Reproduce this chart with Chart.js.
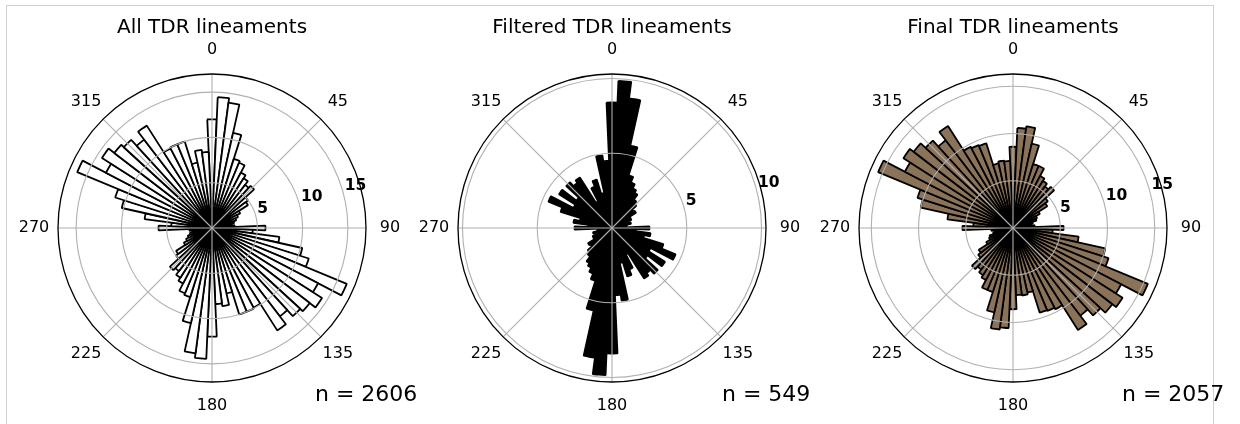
<!DOCTYPE html>
<html>
<head>
<meta charset="utf-8">
<script src="https://cdn.jsdelivr.net/npm/chart.js@4.4.1/dist/chart.umd.min.js"></script>
<style>
  html, body { margin: 0; padding: 0; background: #fff; }
  body { width: 1240px; height: 424px; position: relative; overflow: hidden; }
  #frame { position: absolute; left: 6px; top: 5px; width: 1206px; height: 440px; border: 1px solid #d0d0d0; }
  canvas { position: absolute; top: 0; }
</style>
</head>
<body>
<div id="frame"></div>
<canvas id="rose1" width="430" height="424" style="left:7px"></canvas>
<canvas id="rose2" width="430" height="424" style="left:407px"></canvas>
<canvas id="rose3" width="432" height="424" style="left:808px"></canvas>
<script>
// 5-degree azimuth bins (bar centres), clockwise from north
const BIN_CENTERS = [
  0, 5, 10, 15, 20, 25, 30, 35, 40, 45, 50, 55, 60, 65, 70, 75, 80, 85,
  90, 95, 100, 105, 110, 115, 120, 125, 130, 135, 140, 145, 150, 155, 160, 165, 170, 175,
  180, 185, 190, 195, 200, 205, 210, 215, 220, 225, 230, 235, 240, 245, 250, 255, 260, 265,
  270, 275, 280, 285, 290, 295, 300, 305, 310, 315, 320, 325, 330, 335, 340, 345, 350, 355
];

// Radial bar length per bin
const ALL_TDR = [
  12.0, 14.45, 13.95, 10.75, 8.0, 7.8, 6.9, 6.5, 6.0, 6.3, 5.0, 4.7, 3.5, 3.1, 2.8, 2.5, 2.2, 2.5,
  5.9, 4.5, 7.5, 10.2, 11.2, 16.1, 13.2, 14.4, 13.6, 13.2, 12.3, 13.4, 9.9, 10.0, 10.0, 7.4, 8.7, 8.4,
  12.0, 14.45, 13.95, 10.75, 8.0, 7.8, 6.9, 6.5, 6.0, 6.3, 5.0, 4.7, 3.5, 3.1, 2.8, 2.5, 2.2, 2.5,
  5.9, 4.5, 7.5, 10.2, 11.2, 16.1, 13.2, 14.4, 13.6, 13.2, 12.3, 13.4, 9.9, 10.0, 10.0, 7.4, 8.7, 8.4
];
const FILTERED_TDR = [
  8.4, 9.85, 8.75, 5.65, 3.7, 3.3, 3.0, 2.8, 2.4, 2.2, 1.8, 1.9, 1.4, 1.4, 1.0, 1.3, 1.0, 0.9,
  2.5, 1.6, 2.6, 2.2, 3.6, 4.6, 2.9, 4.2, 3.0, 4.15, 3.8, 4.0, 2.0, 3.0, 3.4, 2.4, 4.9, 4.5,
  8.4, 9.85, 8.75, 5.65, 3.7, 3.3, 3.0, 2.8, 2.4, 2.2, 1.8, 1.9, 1.4, 1.4, 1.0, 1.3, 1.0, 0.9,
  2.5, 1.6, 2.6, 2.2, 3.6, 4.6, 2.9, 4.2, 3.0, 4.15, 3.8, 4.0, 2.0, 3.0, 3.4, 2.4, 4.9, 4.5
];
const FINAL_TDR = [
  8.6, 10.6, 10.85, 9.15, 7.1, 7.1, 6.2, 5.9, 5.55, 5.9, 4.65, 4.3, 3.2, 2.75, 2.6, 2.15, 1.95, 2.3,
  5.35, 4.2, 7.0, 10.0, 10.6, 15.45, 12.9, 13.75, 13.25, 12.55, 11.7, 12.8, 9.7, 9.5, 9.4, 7.0, 7.2, 7.1,
  8.6, 10.6, 10.85, 9.15, 7.1, 7.1, 6.2, 5.9, 5.55, 5.9, 4.65, 4.3, 3.2, 2.75, 2.6, 2.15, 1.95, 2.3,
  5.35, 4.2, 7.0, 10.0, 10.6, 15.45, 12.9, 13.75, 13.25, 12.55, 11.7, 12.8, 9.7, 9.5, 9.4, 7.0, 7.2, 7.1
];

const TITLES = ['All TDR lineaments', 'Filtered TDR lineaments', 'Final TDR lineaments'];
const COUNTS = [2606, 549, 2057];
const AXIS_MAX = [17.0, 10.3, 16.3];
const RADIAL_TICKS = [5, 10, 15];
const ANGLE_TICKS = [0, 45, 90, 135, 180, 225, 270, 315];

const DEG = Math.PI / 180;
const FONT = "'DejaVu Sans', 'Liberation Sans', sans-serif";
const GRID_COLOR = '#b0b0b0';
const RADIUS = 154;

// compass spokes, direction labels, bold radial labels, title and count
const roseDecor = {
  id: 'roseDecor',
  afterDatasetsDraw(chart) {
    const s = chart.scales.r, ctx = chart.ctx;
    ctx.save();
    ctx.strokeStyle = GRID_COLOR;
    ctx.lineWidth = 1.1;
    ANGLE_TICKS.forEach(a => {
      ctx.beginPath();
      ctx.moveTo(s.xCenter, s.yCenter);
      ctx.lineTo(s.xCenter + s.drawingArea * Math.sin(a * DEG),
                 s.yCenter - s.drawingArea * Math.cos(a * DEG));
      ctx.stroke();
    });
    ctx.restore();
  },
  afterDraw(chart, args, o) {
    const s = chart.scales.r, ctx = chart.ctx;
    const R = s.drawingArea;
    ctx.save();
    ctx.fillStyle = '#000';

    ctx.font = '16px ' + FONT;
    ctx.textAlign = 'center';
    ctx.textBaseline = 'middle';
    ANGLE_TICKS.forEach(a => {
      const d = R + 24;
      ctx.fillText(String(a), s.xCenter + d * Math.sin(a * DEG), s.yCenter - d * Math.cos(a * DEG));
    });

    ctx.font = 'bold 15.5px ' + FONT;
    ctx.textAlign = 'left';
    ctx.textBaseline = 'alphabetic';
    RADIAL_TICKS.filter(v => v < s.max).forEach(v => {
      const r = s.getDistanceFromCenterForValue(v);
      ctx.fillText(String(v),
        s.xCenter + r * Math.sin(75.4 * DEG) + 1.3,
        s.yCenter - r * Math.cos(75.4 * DEG) - 3.7);
    });

    ctx.font = '20px ' + FONT;
    ctx.textAlign = 'center';
    ctx.fillText(o.title, s.xCenter, 33);

    ctx.font = '22px ' + FONT;
    ctx.textAlign = 'left';
    ctx.fillText('n = ' + o.count, o.countX, 401);
    ctx.restore();
  }
};

function makeRose(id, values, max, fill, title, count, countX) {
  const canvas = document.getElementById(id);
  const padLeft = 51, padTop = 74;
  return new Chart(canvas, {
    type: 'polarArea',
    data: {
      labels: BIN_CENTERS.map(String),
      datasets: [{
        data: values,
        backgroundColor: fill,
        borderColor: '#000000',
        borderWidth: 1.8
      }]
    },
    options: {
      responsive: false,
      maintainAspectRatio: false,
      devicePixelRatio: 1,
      animation: false,
      events: [],
      layout: {
        padding: {
          left: padLeft,
          right: canvas.width - padLeft - 2 * RADIUS,
          top: padTop,
          bottom: canvas.height - padTop - 2 * RADIUS
        }
      },
      plugins: {
        legend: { display: false },
        tooltip: { enabled: false },
        roseDecor: { title: title, count: count, countX: countX }
      },
      scales: {
        r: {
          min: 0,
          max: max,
          startAngle: -2.5,
          ticks: { display: false, stepSize: 5 },
          afterBuildTicks: sc => {
            sc.ticks = [0].concat(RADIAL_TICKS.filter(v => v < max), [max]).map(v => ({ value: v }));
          },
          grid: {
            z: 1,
            circular: true,
            color: c => (c.tick && c.tick.value === max) ? '#000000' : GRID_COLOR,
            lineWidth: c => (c.tick && c.tick.value === max) ? 1.3 : 1.1
          },
          angleLines: { display: false },
          pointLabels: { display: false }
        }
      }
    },
    plugins: [roseDecor]
  });
}

makeRose('rose1', ALL_TDR, AXIS_MAX[0], '#ffffff', TITLES[0], COUNTS[0], 308);
makeRose('rose2', FILTERED_TDR, AXIS_MAX[1], '#000000', TITLES[1], COUNTS[1], 315);
makeRose('rose3', FINAL_TDR, AXIS_MAX[2], '#8b735a', TITLES[2], COUNTS[2], 314);
</script>
</body>
</html>
